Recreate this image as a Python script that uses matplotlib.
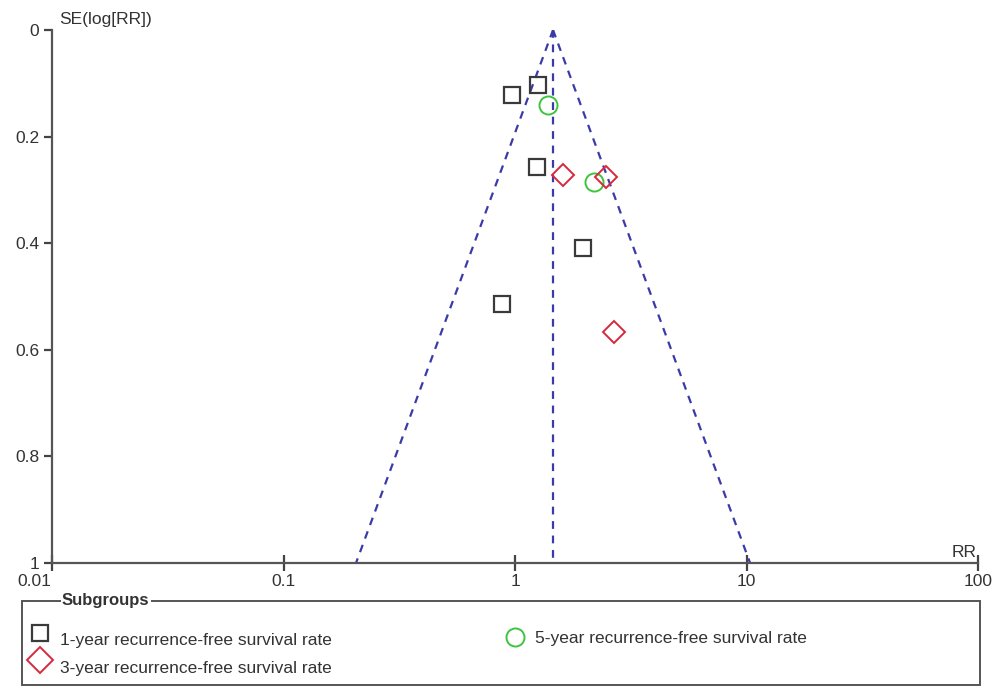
import numpy as np
import matplotlib
matplotlib.use("Agg")
import matplotlib.pyplot as plt
from matplotlib.lines import Line2D
from matplotlib.patches import Rectangle
from matplotlib.transforms import ScaledTranslation

plt.rcParams['font.family'] = ['Liberation Sans', 'DejaVu Sans']

# funnel plot data (RR, SE of log RR) per subgroup
rr_1yr = [0.97, 1.26, 1.24, 1.96, 0.88]
se_1yr = [0.122, 0.103, 0.257, 0.409, 0.514]
rr_3yr = [1.61, 2.47, 2.67]
se_3yr = [0.272, 0.276, 0.567]
rr_5yr = [1.39, 2.19]
se_5yr = [0.141, 0.285]
pooled_rr = 1.46

labels = ['1-year recurrence-free survival rate',
          '3-year recurrence-free survival rate',
          '5-year recurrence-free survival rate']
x_ticks = [0.01, 0.1, 1, 10, 100]
x_ticklabels = ['0.01', '0.1', '1', '10', '100']
y_ticks = [0, 0.2, 0.4, 0.6, 0.8, 1]
y_ticklabels = ['0', '0.2', '0.4', '0.6', '0.8', '1']

txt = '#333333'
sq_col = '#3a3a3a'
red = '#d8283c'
green = '#3ec43e'
blue = '#3a3aa8'

fig = plt.figure(figsize=(10, 6.9), dpi=100)
ax = fig.add_axes([0.052, 0.184, 0.926, 0.7725])

# funnel and pooled estimate
se = np.linspace(0, 1, 50)
dash = (0, (3.5, 3))
ax.plot(pooled_rr * np.exp(-1.96 * se), se, ls=dash, color=blue, lw=1.6)
ax.plot(pooled_rr * np.exp(1.96 * se), se, ls=dash, color=blue, lw=1.6)
ax.plot([pooled_rr, pooled_rr], [0, 1], ls=dash, color=blue, lw=1.6)

ax.plot(rr_1yr, se_1yr, 's', ms=11, mfc='none', mec=sq_col, mew=1.6)
ax.plot(rr_5yr, se_5yr, 'o', ms=13, mfc='none', mec=green, mew=1.4)
ax.plot(rr_3yr, se_3yr, 'D', ms=11, mfc='none', mec=red, mew=1.4)

ax.set_xscale('log')
ax.set_xlim(0.01, 100)
ax.set_ylim(1, 0)
ax.set_xticks(x_ticks)
ax.set_xticklabels(x_ticklabels)
ax.minorticks_off()
ax.set_yticks(y_ticks)
ax.set_yticklabels(y_ticklabels)

for s in ['top', 'right']:
    ax.spines[s].set_visible(False)
for s in ['left', 'bottom']:
    ax.spines[s].set_color('#555555')
    ax.spines[s].set_linewidth(1.6)
ax.tick_params(axis='x', direction='inout', length=12, width=1.6, color='#444444',
               labelsize=12.5, labelcolor=txt, pad=2)
ax.tick_params(axis='y', direction='out', length=6, width=1.6, color='#444444',
               labelsize=12.5, labelcolor=txt, pad=3)
# first x label sits a little left of its tick
first = ax.get_xticklabels()[0]
first.set_transform(first.get_transform() + ScaledTranslation(-0.18, 0, fig.dpi_scale_trans))

ax.text(0.008, 1.005, 'SE(log[RR])', transform=ax.transAxes, fontsize=12.5, color=txt,
        va='bottom', ha='left')
ax.text(0.985, 0.005, 'RR', transform=ax.transAxes, fontsize=12.5, color=txt,
        va='bottom', ha='center')

# legend box drawn by hand
fig.patches.append(Rectangle((0.022, 0.007), 0.958, 0.122, transform=fig.transFigure,
                             fill=False, ec='#555555', lw=1.4))
fig.text(0.062, 0.129, 'Subgroups', fontsize=12, fontweight='bold', color=txt,
         va='center', ha='left', bbox=dict(fc='white', ec='none', pad=1))
fig.add_artist(Line2D([0.040], [0.082], marker='s', ms=11, mfc='none', mec=sq_col, mew=1.6,
                      transform=fig.transFigure))
fig.add_artist(Line2D([0.040], [0.043], marker='D', ms=13, mfc='none', mec=red, mew=1.4,
                      transform=fig.transFigure))
fig.add_artist(Line2D([0.515], [0.077], marker='o', ms=13, mfc='none', mec=green, mew=1.4,
                      transform=fig.transFigure))
fig.text(0.060, 0.072, labels[0], fontsize=12.5, color=txt, va='center')
fig.text(0.060, 0.031, labels[1], fontsize=12.5, color=txt, va='center')
fig.text(0.535, 0.074, labels[2], fontsize=12.5, color=txt, va='center')

fig.savefig('out.png', dpi=100)
